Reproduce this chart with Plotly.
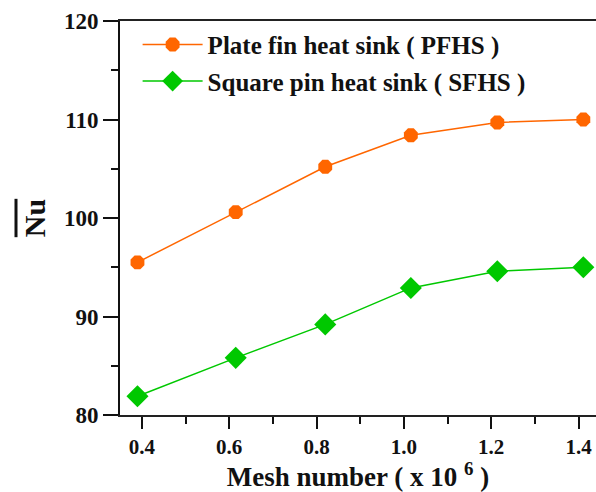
import plotly.graph_objects as go

# Mesh independence study: average Nusselt number vs. mesh size
mesh_pfhs = [0.39, 0.615, 0.82, 1.016, 1.214, 1.411]
nu_pfhs = [95.5, 100.6, 105.2, 108.4, 109.7, 110.0]

mesh_sfhs = [0.39, 0.615, 0.82, 1.016, 1.214, 1.411]
nu_sfhs = [81.9, 85.8, 89.2, 92.9, 94.6, 95.0]

x_ticks = [0.4, 0.6, 0.8, 1.0, 1.2, 1.4]
y_ticks = [80, 90, 100, 110, 120]

FAMILY = "Liberation Serif"
INK = "#111111"


def serif_bold(s, extra=""):
    """Wrap a label so it is drawn in bold serif, near-black."""
    return f"<b><span style='color:{INK};{extra}'>{s}</span></b>"


fig = go.Figure()
fig.add_trace(go.Scatter(
    x=mesh_pfhs, y=nu_pfhs, mode="lines+markers",
    name=serif_bold("Plate fin heat sink ( PFHS )"), legendgroup="pfhs",
    line=dict(color="#FF6600", width=1.5),
    marker=dict(symbol="octagon", size=15, color="#FF6600"),
))
fig.add_trace(go.Scatter(
    x=mesh_sfhs, y=nu_sfhs, mode="lines+markers",
    name=serif_bold("Square pin heat sink ( SFHS )"), legendgroup="sfhs",
    line=dict(color="#00C800", width=1.5),
    marker=dict(symbol="diamond", size=17, color="#00C800"),
))

fig.update_layout(
    width=596, height=492,
    margin=dict(l=120, r=0, t=21, b=77),
    paper_bgcolor="white", plot_bgcolor="white",
    showlegend=True,
    legend=dict(
        x=0.037, y=0.998, xanchor="left", yanchor="top",
        bgcolor="rgba(0,0,0,0)", borderwidth=0,
        font=dict(family=FAMILY, size=25),
        tracegroupgap=1, itemwidth=60, itemsizing="trace",
    ),
)

fig.update_xaxes(
    range=[0.35, 1.44],
    tickmode="array", tickvals=x_ticks,
    ticktext=[serif_bold(f"{v:.1f}") for v in x_ticks],
    tickfont=dict(family=FAMILY, size=21),
    ticks="outside", ticklen=12, tickwidth=1.5, tickcolor=INK,
    minor=dict(ticks="outside", ticklen=7, tickwidth=1.5, tickcolor=INK,
               tickvals=[0.5, 0.7, 0.9, 1.1, 1.3]),
    showline=True, linecolor="#222222", linewidth=1.8, mirror=True,
    showgrid=False, zeroline=False,
    title=dict(text=serif_bold("Mesh number ( x 10 <sup>6</sup> )"),
               font=dict(family=FAMILY, size=27), standoff=2),
)

fig.update_yaxes(
    range=[80, 120],
    tickmode="array", tickvals=y_ticks,
    ticktext=[serif_bold(v) for v in y_ticks],
    tickfont=dict(family=FAMILY, size=23),
    ticks="outside", ticklen=15, tickwidth=1.5, tickcolor=INK,
    minor=dict(ticks="outside", ticklen=7, tickwidth=1.5, tickcolor=INK,
               tickvals=[85, 95, 105, 115]),
    showline=True, linecolor=INK, linewidth=1.8, mirror=False,
    showgrid=False, zeroline=False,
    title=dict(text=serif_bold("Nu", "text-decoration:overline"),
               font=dict(family=FAMILY, size=30), standoff=10),
)

fig.write_html("out.html")
